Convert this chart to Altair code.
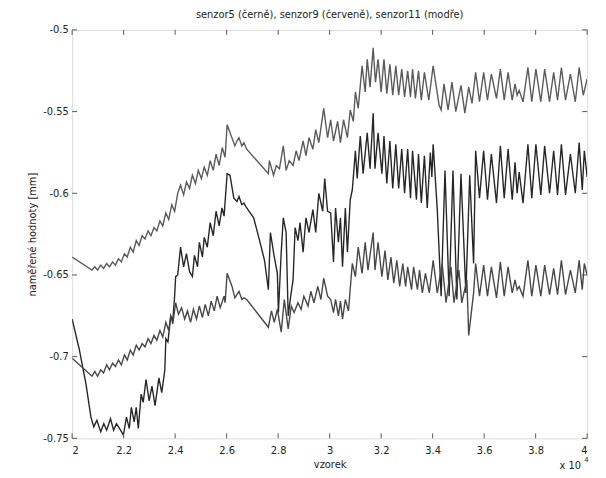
import altair as alt
import pandas as pd

TITLE = "senzor5 (černě), senzor9 (červeně), senzor11 (modře)"
X_TITLE = "vzorek"
Y_TITLE = "naměřené hodnoty [mm]"
X_TICKS = [2.0, 2.2, 2.4, 2.6, 2.8, 3.0, 3.2, 3.4, 3.6, 3.8, 4.0]
Y_TICKS = [-0.75, -0.7, -0.65, -0.6, -0.55, -0.5]
SERIES = ["senzor9", "senzor5", "senzor11"]
COLORS = ["#5a5a5a", "#262626", "#474747"]

# upper trace
top_x = [2.000, 2.077, 2.088, 2.099, 2.111, 2.122, 2.134, 2.145, 2.157, 2.168, 2.180, 2.191, 2.203, 2.214,
         2.226, 2.237, 2.249, 2.260, 2.272, 2.283, 2.295, 2.306, 2.318, 2.329, 2.341, 2.352, 2.364, 2.375,
         2.387, 2.398, 2.410, 2.421, 2.433, 2.444, 2.456, 2.467, 2.479, 2.490, 2.502, 2.513, 2.525, 2.536,
         2.548, 2.559, 2.571, 2.583, 2.594, 2.602, 2.632, 2.640, 2.648, 2.659, 2.667, 2.678, 2.762, 2.766,
         2.782, 2.793, 2.805, 2.820, 2.831, 2.843, 2.858, 2.870, 2.881, 2.897, 2.908, 2.920, 2.935, 2.946,
         2.958, 2.977, 2.992, 3.004, 3.015, 3.031, 3.042, 3.054, 3.069, 3.080, 3.092, 3.100, 3.111, 3.126,
         3.138, 3.146, 3.157, 3.169, 3.178, 3.188, 3.200, 3.211, 3.222, 3.234, 3.245, 3.257, 3.268, 3.280,
         3.291, 3.303, 3.314, 3.322, 3.333, 3.345, 3.356, 3.368, 3.385, 3.402, 3.425, 3.433, 3.444, 3.460,
         3.475, 3.490, 3.510, 3.525, 3.540, 3.553, 3.567, 3.582, 3.598, 3.613, 3.628, 3.648, 3.663, 3.678,
         3.693, 3.709, 3.720, 3.728, 3.736, 3.751, 3.770, 3.785, 3.801, 3.820, 3.835, 3.854, 3.870, 3.885,
         3.900, 3.916, 3.935, 3.954, 3.969, 3.985, 4.000]
top_y = [-0.639, -0.647, -0.645, -0.647, -0.644, -0.646, -0.643, -0.645, -0.642, -0.644, -0.640, -0.642, -0.637, -0.639,
         -0.633, -0.636, -0.629, -0.632, -0.626, -0.628, -0.623, -0.626, -0.621, -0.623, -0.617, -0.620, -0.612, -0.616,
         -0.607, -0.611, -0.600, -0.595, -0.601, -0.593, -0.597, -0.589, -0.594, -0.586, -0.591, -0.584, -0.589, -0.580,
         -0.586, -0.576, -0.583, -0.572, -0.578, -0.558, -0.571, -0.568, -0.566, -0.571, -0.569, -0.573, -0.588, -0.580,
         -0.589, -0.583, -0.585, -0.571, -0.586, -0.580, -0.583, -0.574, -0.580, -0.568, -0.577, -0.566, -0.573, -0.561,
         -0.569, -0.548, -0.566, -0.555, -0.568, -0.556, -0.569, -0.555, -0.566, -0.549, -0.556, -0.538, -0.548, -0.522,
         -0.538, -0.518, -0.535, -0.511, -0.532, -0.518, -0.538, -0.518, -0.539, -0.521, -0.540, -0.522, -0.540, -0.524,
         -0.541, -0.525, -0.541, -0.524, -0.542, -0.525, -0.543, -0.526, -0.543, -0.522, -0.546, -0.549, -0.533, -0.549,
         -0.532, -0.550, -0.534, -0.551, -0.535, -0.545, -0.526, -0.544, -0.526, -0.543, -0.527, -0.542, -0.524, -0.543,
         -0.526, -0.543, -0.533, -0.540, -0.537, -0.544, -0.523, -0.544, -0.524, -0.544, -0.524, -0.544, -0.526, -0.543,
         -0.523, -0.543, -0.527, -0.544, -0.523, -0.540, -0.530]

# middle (darkest) trace
mid_x = [2.000, 2.027, 2.054, 2.073, 2.084, 2.096, 2.111, 2.123, 2.134, 2.149, 2.161, 2.172, 2.188, 2.199,
         2.211, 2.222, 2.230, 2.241, 2.249, 2.257, 2.268, 2.276, 2.287, 2.299, 2.310, 2.322, 2.337, 2.348,
         2.360, 2.364, 2.372, 2.383, 2.391, 2.398, 2.402, 2.410, 2.421, 2.433, 2.444, 2.456, 2.467, 2.475,
         2.487, 2.494, 2.506, 2.513, 2.525, 2.536, 2.548, 2.559, 2.571, 2.582, 2.590, 2.602, 2.613, 2.628,
         2.640, 2.648, 2.659, 2.667, 2.678, 2.705, 2.728, 2.747, 2.762, 2.770, 2.785, 2.797, 2.801, 2.812,
         2.820, 2.831, 2.839, 2.847, 2.858, 2.866, 2.877, 2.885, 2.897, 2.908, 2.920, 2.935, 2.946, 2.958,
         2.973, 2.981, 2.992, 3.004, 3.015, 3.023, 3.034, 3.042, 3.050, 3.061, 3.069, 3.080, 3.088, 3.100,
         3.107, 3.119, 3.130, 3.146, 3.157, 3.169, 3.176, 3.188, 3.203, 3.211, 3.222, 3.234, 3.245, 3.257,
         3.268, 3.280, 3.291, 3.303, 3.314, 3.322, 3.337, 3.345, 3.356, 3.368, 3.379, 3.391, 3.397, 3.402,
         3.418, 3.433, 3.448, 3.464, 3.479, 3.494, 3.510, 3.529, 3.544, 3.559, 3.567, 3.582, 3.598, 3.613,
         3.628, 3.648, 3.663, 3.678, 3.693, 3.709, 3.720, 3.728, 3.736, 3.751, 3.770, 3.785, 3.801, 3.820,
         3.835, 3.854, 3.870, 3.885, 3.900, 3.916, 3.935, 3.954, 3.969, 3.981, 3.989, 4.000]
mid_y = [-0.677, -0.695, -0.717, -0.737, -0.743, -0.739, -0.746, -0.741, -0.745, -0.738, -0.745, -0.741, -0.745, -0.748,
         -0.737, -0.744, -0.731, -0.740, -0.731, -0.744, -0.723, -0.728, -0.714, -0.727, -0.718, -0.730, -0.713, -0.722,
         -0.708, -0.689, -0.691, -0.675, -0.678, -0.663, -0.651, -0.650, -0.633, -0.645, -0.637, -0.648, -0.651, -0.638,
         -0.645, -0.630, -0.639, -0.627, -0.633, -0.618, -0.626, -0.611, -0.620, -0.609, -0.614, -0.588, -0.589, -0.603,
         -0.605, -0.602, -0.607, -0.606, -0.609, -0.615, -0.629, -0.641, -0.659, -0.624, -0.639, -0.649, -0.673, -0.636,
         -0.615, -0.624, -0.675, -0.665, -0.653, -0.621, -0.629, -0.618, -0.636, -0.615, -0.624, -0.610, -0.624, -0.600,
         -0.611, -0.591, -0.611, -0.612, -0.642, -0.609, -0.630, -0.615, -0.645, -0.609, -0.636, -0.604, -0.598, -0.574,
         -0.591, -0.565, -0.588, -0.563, -0.585, -0.551, -0.585, -0.563, -0.588, -0.565, -0.594, -0.568, -0.597, -0.570,
         -0.597, -0.573, -0.600, -0.573, -0.603, -0.574, -0.604, -0.576, -0.606, -0.577, -0.609, -0.575, -0.590, -0.570,
         -0.610, -0.663, -0.586, -0.663, -0.586, -0.665, -0.588, -0.661, -0.589, -0.643, -0.574, -0.603, -0.574, -0.604,
         -0.576, -0.606, -0.571, -0.603, -0.573, -0.604, -0.581, -0.600, -0.587, -0.606, -0.570, -0.603, -0.570, -0.601,
         -0.571, -0.600, -0.574, -0.601, -0.570, -0.601, -0.576, -0.600, -0.569, -0.598, -0.574, -0.590]

# lower trace
low_x = [2.000, 2.077, 2.088, 2.099, 2.111, 2.122, 2.134, 2.145, 2.157, 2.168, 2.180, 2.191, 2.203, 2.214,
         2.226, 2.237, 2.249, 2.260, 2.272, 2.283, 2.295, 2.306, 2.318, 2.329, 2.341, 2.352, 2.364, 2.375,
         2.383, 2.391, 2.402, 2.413, 2.425, 2.437, 2.448, 2.460, 2.471, 2.483, 2.494, 2.506, 2.517, 2.529,
         2.540, 2.552, 2.563, 2.575, 2.590, 2.594, 2.602, 2.621, 2.632, 2.648, 2.659, 2.667, 2.678, 2.762,
         2.774, 2.785, 2.797, 2.812, 2.824, 2.839, 2.851, 2.862, 2.877, 2.889, 2.900, 2.916, 2.927, 2.939,
         2.954, 2.966, 2.977, 2.992, 3.004, 3.015, 3.023, 3.034, 3.042, 3.050, 3.061, 3.073, 3.088, 3.100,
         3.111, 3.126, 3.138, 3.149, 3.169, 3.176, 3.188, 3.203, 3.215, 3.226, 3.238, 3.249, 3.261, 3.272,
         3.284, 3.295, 3.303, 3.318, 3.326, 3.341, 3.349, 3.360, 3.372, 3.387, 3.402, 3.418, 3.437, 3.452,
         3.471, 3.483, 3.502, 3.513, 3.533, 3.540, 3.559, 3.567, 3.582, 3.598, 3.613, 3.628, 3.648, 3.663,
         3.678, 3.693, 3.709, 3.720, 3.728, 3.736, 3.751, 3.770, 3.785, 3.801, 3.820, 3.835, 3.854, 3.870,
         3.885, 3.900, 3.916, 3.935, 3.954, 3.969, 3.981, 3.989, 4.000]
low_y = [-0.701, -0.712, -0.709, -0.712, -0.708, -0.710, -0.705, -0.708, -0.704, -0.706, -0.702, -0.705, -0.699, -0.702,
         -0.696, -0.699, -0.693, -0.696, -0.692, -0.694, -0.689, -0.692, -0.687, -0.690, -0.684, -0.688, -0.679, -0.684,
         -0.675, -0.680, -0.667, -0.674, -0.670, -0.677, -0.672, -0.679, -0.671, -0.677, -0.669, -0.676, -0.668, -0.675,
         -0.666, -0.672, -0.663, -0.670, -0.663, -0.667, -0.649, -0.657, -0.664, -0.660, -0.665, -0.664, -0.665, -0.682,
         -0.672, -0.679, -0.671, -0.685, -0.665, -0.683, -0.669, -0.673, -0.667, -0.671, -0.663, -0.669, -0.660, -0.667,
         -0.657, -0.665, -0.652, -0.663, -0.665, -0.673, -0.665, -0.675, -0.666, -0.677, -0.665, -0.672, -0.643, -0.651,
         -0.633, -0.649, -0.630, -0.647, -0.624, -0.647, -0.630, -0.651, -0.635, -0.653, -0.639, -0.655, -0.641, -0.657,
         -0.643, -0.657, -0.645, -0.659, -0.645, -0.659, -0.647, -0.661, -0.649, -0.661, -0.641, -0.661, -0.643, -0.667,
         -0.645, -0.667, -0.647, -0.667, -0.653, -0.687, -0.661, -0.643, -0.663, -0.644, -0.663, -0.645, -0.664, -0.642,
         -0.663, -0.645, -0.661, -0.653, -0.659, -0.657, -0.663, -0.641, -0.663, -0.644, -0.663, -0.644, -0.662, -0.646,
         -0.662, -0.641, -0.662, -0.647, -0.661, -0.641, -0.659, -0.643, -0.650]

frames = []
for name, xs, ys in [(SERIES[0], top_x, top_y), (SERIES[1], mid_x, mid_y), (SERIES[2], low_x, low_y)]:
    frames.append(pd.DataFrame({"vzorek": xs, "hodnota": ys, "senzor": name, "i": list(range(len(xs)))}))
df = pd.concat(frames, ignore_index=True)

W, H = 522, 414
FONT = "DejaVu Sans"
TXT = "#222222"
AX = "#555555"

xscale = alt.Scale(domain=[2, 4], nice=False, zero=False)
yscale = alt.Scale(domain=[-0.75, -0.5], nice=False, zero=False)

x_axis = alt.Axis(values=X_TICKS, labelExpr="format(datum.value, '.1~f')", title=X_TITLE,
                  ticks=False, domain=False, grid=False, labelPadding=7, titlePadding=5,
                  labelFontSize=10, titleFontSize=10, titleFontWeight="normal",
                  labelColor=TXT, titleColor=TXT, labelFont=FONT, titleFont=FONT)
y_axis = alt.Axis(values=Y_TICKS, labelExpr="'-' + format(abs(datum.value), '.2~f')", title=Y_TITLE,
                  ticks=False, domain=False, grid=False, labelPadding=4, titlePadding=5,
                  labelFontSize=10, titleFontSize=10, titleFontWeight="normal",
                  labelColor=TXT, titleColor=TXT, labelFont=FONT, titleFont=FONT)

lines = alt.Chart(df).mark_line(strokeWidth=1.4, clip=True).encode(
    x=alt.X("vzorek:Q", scale=xscale, axis=x_axis, title=X_TITLE),
    y=alt.Y("hodnota:Q", scale=yscale, axis=y_axis, title=Y_TITLE),
    color=alt.Color("senzor:N", scale=alt.Scale(domain=SERIES, range=COLORS), legend=None),
    order=alt.Order("i:Q"),
)

xt = pd.DataFrame({"vzorek": X_TICKS})
yt = pd.DataFrame({"hodnota": Y_TICKS})
tick_b = alt.Chart(xt).mark_rule(color=AX, strokeWidth=1).encode(
    x=alt.X("vzorek:Q", scale=xscale, axis=x_axis, title=X_TITLE), y=alt.value(H), y2=alt.value(H - 5))
tick_t = alt.Chart(xt).mark_rule(color=AX, strokeWidth=1).encode(
    x=alt.X("vzorek:Q", scale=xscale, axis=x_axis, title=X_TITLE), y=alt.value(0), y2=alt.value(5))
tick_l = alt.Chart(yt).mark_rule(color=AX, strokeWidth=1).encode(
    y=alt.Y("hodnota:Q", scale=yscale, axis=y_axis, title=Y_TITLE), x=alt.value(0), x2=alt.value(5))
tick_r = alt.Chart(yt).mark_rule(color=AX, strokeWidth=1).encode(
    y=alt.Y("hodnota:Q", scale=yscale, axis=y_axis, title=Y_TITLE), x=alt.value(W - 5), x2=alt.value(W))

exp_base = alt.Chart(pd.DataFrame({"s": ["x 10"]})).mark_text(
    align="left", baseline="middle", fontSize=10, font=FONT, color=TXT).encode(
    text="s:N", x=alt.value(494), y=alt.value(442))
exp_sup = alt.Chart(pd.DataFrame({"s": ["4"]})).mark_text(
    align="left", baseline="middle", fontSize=7, font=FONT, color=TXT).encode(
    text="s:N", x=alt.value(519), y=alt.value(436))

chart = alt.layer(lines, tick_b, tick_t, tick_l, tick_r, exp_base, exp_sup).properties(
    width=W, height=H,
    title=alt.TitleParams(TITLE, fontSize=10, font=FONT, fontWeight="normal", color=TXT, offset=5),
    autosize=alt.AutoSizeParams(type="none"),
    padding={"left": 65, "top": 19, "right": 11, "bottom": 37},
).configure_view(stroke=AX, strokeWidth=1).configure(background="white")

chart.save("out.html", embed_options={"renderer": "svg", "actions": False})
